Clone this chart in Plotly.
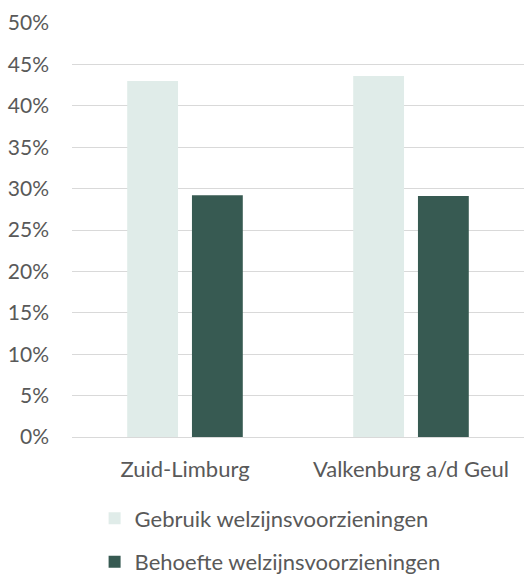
import plotly.graph_objects as go

categories = ["Zuid-Limburg", "Valkenburg a/d Geul"]
gebruik = [0.430, 0.436]
behoefte = [0.292, 0.291]
series_names = ["Gebruik welzijnsvoorzieningen", "Behoefte welzijnsvoorzieningen"]
y_ticks = [i * 0.05 for i in range(11)]

FONT = "Lato"
TXT = "#595959"
FS = 22

fig = go.Figure()
fig.add_trace(go.Bar(x=categories, y=gebruik, name=series_names[0],
                     marker=dict(color="#E0ECE9", line=dict(width=0)),
                     legendgroup="a"))
fig.add_trace(go.Bar(x=categories, y=behoefte, name=series_names[1],
                     marker=dict(color="#375A52", line=dict(width=0)),
                     legendgroup="b"))

fig.update_layout(
    width=525, height=575,
    margin=dict(l=72, r=1, t=23, b=138, autoexpand=False),
    paper_bgcolor="white", plot_bgcolor="white",
    barmode="group", bargap=0.427, bargroupgap=0.215,
    font=dict(family=FONT, size=FS, color=TXT),
    showlegend=True,
    legend=dict(orientation="v", x=0.05, xanchor="left",
                yref="container", y=0.135, yanchor="top",
                font=dict(family=FONT, size=FS, color=TXT),
                tracegroupgap=12, bgcolor="rgba(0,0,0,0)"),
    xaxis=dict(showgrid=False, showline=True, linecolor="#D9D9D9", linewidth=1,
               ticks="", tickfont=dict(family=FONT, size=FS, color=TXT),
               ticklabelstandoff=13),
    yaxis=dict(range=[0, 0.5], tickvals=y_ticks, tickformat=".0%",
               showgrid=True, gridcolor="#D9D9D9", gridwidth=1,
               zeroline=False, showline=False, ticks="",
               tickfont=dict(family=FONT, size=21, color=TXT),
               ticklabelstandoff=22),
)

fig.write_html("out.html", config={"displayModeBar": False},
               post_script="document.body.style.margin='0';")
